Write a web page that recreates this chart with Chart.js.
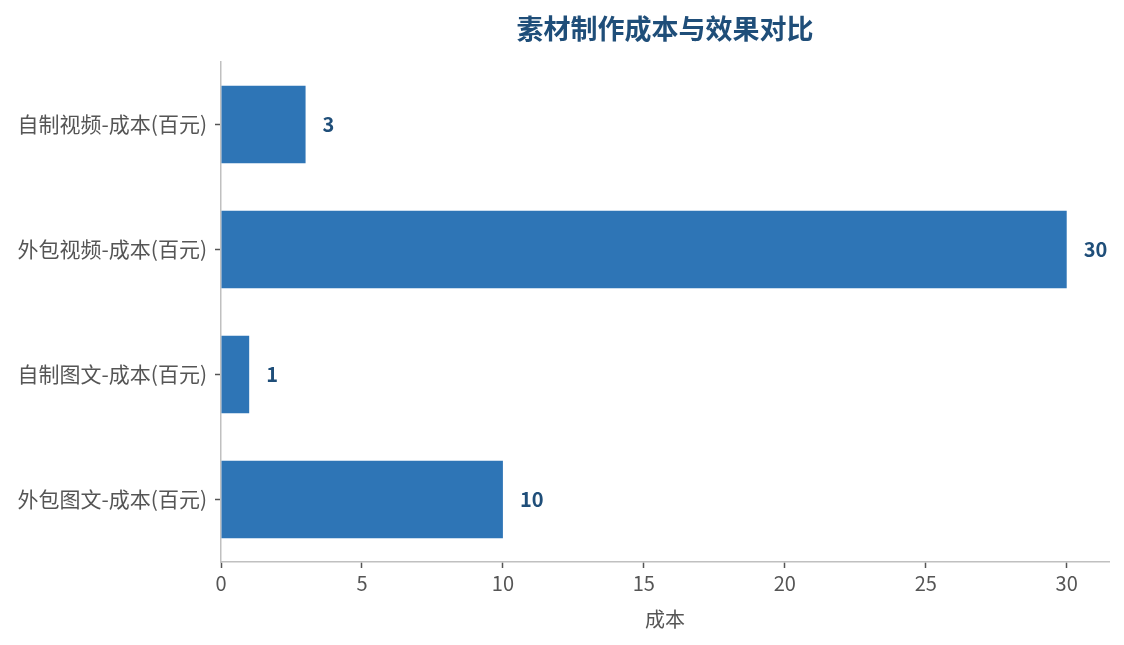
<!DOCTYPE html>
<html lang="zh">
<head>
<meta charset="UTF-8">
<title>素材制作成本与效果对比</title>
<script src="https://cdn.jsdelivr.net/npm/chart.js"></script>
<style>
  html, body { margin: 0; padding: 0; background: #fff; overflow: hidden; }
</style>
</head>
<body>
<canvas id="chart" width="1124" height="645"></canvas>
<script>
// données du graphique
const categories = ['自制视频-成本(百元)', '外包视频-成本(百元)', '自制图文-成本(百元)', '外包图文-成本(百元)'];
const costs = [3, 30, 1, 10];
const xTicks = [0, 5, 10, 15, 20, 25, 30];
const chartTitle = '素材制作成本与效果对比';
const xTitle = '成本';

const FONT = '"Noto Sans CJK SC", "Noto Sans", sans-serif';

// titre centré sur la zone de tracé (pas sur tout le canvas)
const titlePlugin = {
  id: 'areaTitle',
  afterDraw(chart) {
    const { ctx, chartArea } = chart;
    ctx.save();
    ctx.font = 'bold 27px ' + FONT;
    ctx.fillStyle = '#1F4E79';
    ctx.textAlign = 'center';
    ctx.textBaseline = 'middle';
    ctx.fillText(chartTitle, (chartArea.left + chartArea.right) / 2, 29);
    ctx.restore();
  }
};

// valeurs au bout des barres
const valueLabels = {
  id: 'valueLabels',
  afterDatasetsDraw(chart) {
    const { ctx } = chart;
    const meta = chart.getDatasetMeta(0);
    ctx.save();
    ctx.font = 'bold 20px ' + FONT;
    ctx.fillStyle = '#1F4E79';
    ctx.textAlign = 'left';
    ctx.textBaseline = 'middle';
    meta.data.forEach((bar, i) => {
      ctx.fillText(String(costs[i]), bar.x + 17, bar.y);
    });
    ctx.restore();
  }
};

new Chart(document.getElementById('chart'), {
  type: 'bar',
  data: {
    labels: categories,
    datasets: [{
      data: costs,
      backgroundColor: '#2E75B6',
      borderWidth: 0,
      barPercentage: 0.62,
      categoryPercentage: 1
    }]
  },
  options: {
    indexAxis: 'y',
    responsive: false,
    animation: false,
    devicePixelRatio: 1,
    layout: { padding: { top: 62, right: 15, left: 0, bottom: 14 } },
    plugins: {
      legend: { display: false },
      tooltip: { enabled: false },
      title: { display: false }
    },
    scales: {
      x: {
        min: 0,
        max: 31.5,
        afterBuildTicks(axis) { axis.ticks = xTicks.map(v => ({ value: v })); },
        grid: { drawOnChartArea: false, tickLength: 6, tickColor: '#555', tickWidth: 1.5 },
        border: { color: '#c0c0c0', width: 1.5 },
        ticks: { color: '#555', font: { family: FONT, size: 20 }, padding: 3 },
        title: { display: true, text: xTitle, color: '#555', font: { family: FONT, size: 20 }, padding: { top: 9, bottom: 0 } }
      },
      y: {
        offset: true,
        afterFit(axis) { axis.width = 221; },
        grid: { drawOnChartArea: false, offset: false, tickLength: 6, tickColor: '#555', tickWidth: 1.5 },
        border: { color: '#c0c0c0', width: 1.5 },
        ticks: { color: '#555', font: { family: FONT, size: 21 }, padding: 8 }
      }
    }
  },
  plugins: [titlePlugin, valueLabels]
});
</script>
</body>
</html>
